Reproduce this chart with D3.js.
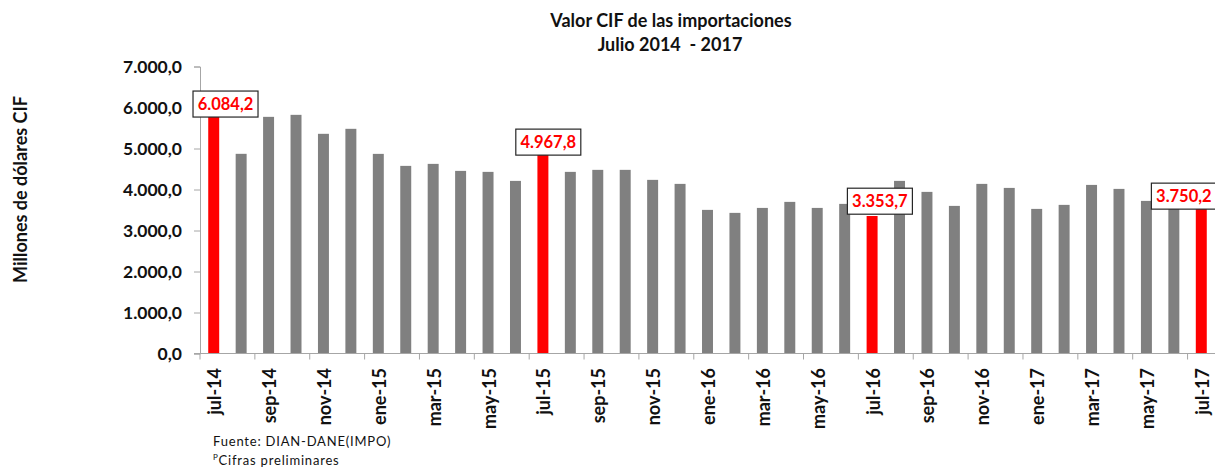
<!DOCTYPE html>
<html>
<head>
<meta charset="utf-8">
<script src="https://cdn.jsdelivr.net/npm/d3@7"></script>
<style>
  html, body { margin: 0; padding: 0; background: #fff; }
  svg { display: block; font-family: Lato, "Open Sans", sans-serif; }
</style>
</head>
<body>
<svg id="chart" width="1215" height="468"></svg>
<script>
// ---- Data ----
const months = [
  "jul-14","ago-14","sep-14","oct-14","nov-14","dic-14",
  "ene-15","feb-15","mar-15","abr-15","may-15","jun-15",
  "jul-15","ago-15","sep-15","oct-15","nov-15","dic-15",
  "ene-16","feb-16","mar-16","abr-16","may-16","jun-16",
  "jul-16","ago-16","sep-16","oct-16","nov-16","dic-16",
  "ene-17","feb-17","mar-17","abr-17","may-17","jun-17",
  "jul-17"
];
const values = [
  6084.2, 4870, 5772, 5821, 5358, 5480,
  4869, 4576, 4625, 4454, 4430, 4210,
  4967.8, 4430, 4479, 4479, 4235, 4137,
  3503, 3430, 3551, 3698, 3551, 3649,
  3353.7, 4210, 3942, 3600, 4137, 4039,
  3527, 3625, 4112, 4015, 3722, 3550,
  3750.2
];
const highlighted = ["jul-14", "jul-15", "jul-16", "jul-17"];
const yTicks = [0, 1000, 2000, 3000, 4000, 5000, 6000, 7000];
const titleLines = ["Valor CIF de las importaciones", "Julio 2014  - 2017"];
const yTitle = "Millones de dólares CIF";
const notes = ["Fuente: DIAN-DANE(IMPO)", "Cifras preliminares"];

// ---- Layout ----
const svg = d3.select("#chart");
const plotLeft = 200, plotRight = 1215, plotTop = 66.5, plotBottom = 353.5;

const x = d3.scaleBand().domain(months).range([plotLeft, plotRight])
  .paddingInner(0.6).paddingOuter(0.3);
const y = d3.scaleLinear().domain([0, 7000]).range([plotBottom, plotTop]);
const step = x.step();

const fmt = v => {
  const s = d3.format(",.1f")(v);
  return s.replace(/,/g, "#").replace(".", ",").replace(/#/g, ".");
};

const axisColor = "#a6a6a6";
const textColor = "#111";

// Title
svg.append("text").attr("x", 671).attr("y", 27)
  .attr("text-anchor", "middle").attr("font-weight", 700).attr("font-size", 18)
  .attr("fill", textColor).text(titleLines[0]);
svg.append("text").attr("x", 670).attr("y", 51)
  .attr("text-anchor", "middle").attr("font-weight", 700).attr("font-size", 18)
  .attr("fill", textColor).attr("xml:space", "preserve").text(titleLines[1]);

// Y axis title
svg.append("text")
  .attr("transform", `translate(21,${(97 + 282) / 2}) rotate(-90)`)
  .attr("text-anchor", "middle").attr("dy", "0.35em")
  .attr("font-weight", 700).attr("font-size", 18).attr("fill", textColor)
  .text(yTitle);

// Bars
svg.append("g").selectAll("rect").data(months).join("rect")
  .attr("x", d => x(d))
  .attr("width", x.bandwidth())
  .attr("y", (d, i) => y(values[i]))
  .attr("height", (d, i) => y(0) - y(values[i]))
  .attr("fill", d => highlighted.includes(d) ? "#ff0000" : "#808080");

// Y axis
const yAxis = d3.axisLeft(y).tickValues(yTicks).tickSize(6).tickPadding(12)
  .tickFormat(fmt);
const gy = svg.append("g").attr("transform", `translate(${plotLeft},0)`).call(yAxis);
gy.select(".domain").attr("stroke", axisColor);
gy.selectAll(".tick line").attr("stroke", axisColor);
gy.selectAll(".tick text").attr("font-family", "Lato, sans-serif")
  .attr("font-size", 17.5).attr("font-weight", 700).attr("fill", textColor);

// X axis line + ticks (every two months, at category boundaries)
svg.append("line").attr("x1", plotLeft - 6).attr("x2", plotRight)
  .attr("y1", y(0)).attr("y2", y(0)).attr("stroke", axisColor);
const labelled = months.filter((d, i) => i % 2 === 0);
svg.append("g").selectAll("line").data(labelled).join("line")
  .attr("x1", d => x(d) - x.paddingOuter() * step)
  .attr("x2", d => x(d) - x.paddingOuter() * step)
  .attr("y1", y(0)).attr("y2", y(0) + 6)
  .attr("stroke", axisColor);

// X labels (rotated)
svg.append("g").selectAll("text").data(labelled).join("text")
  .attr("transform", d => `translate(${x(d) + x.bandwidth() / 2 + 1},368) rotate(-90)`)
  .attr("text-anchor", "end").attr("dy", "0.36em")
  .attr("font-weight", 700).attr("font-size", 18).attr("fill", textColor)
  .text(d => d);

// Highlight value labels (boxed)
const labelShift = { "jul-14": [11.8, 0], "jul-15": [5.4, -7.7], "jul-16": [7.8, -14.8], "jul-17": [-17.4, -3.6] };
const boxW = 65, boxH = 26;
const gl = svg.append("g");
highlighted.forEach(m => {
  const i = months.indexOf(m);
  const [dx, dy] = labelShift[m];
  const cx = x(m) + x.bandwidth() / 2 + dx;
  const cy = y(values[i]) + dy;
  gl.append("rect").attr("x", cx - boxW / 2).attr("y", cy - boxH / 2)
    .attr("width", boxW).attr("height", boxH)
    .attr("fill", "#fff").attr("stroke", "#262626").attr("stroke-width", 1.2);
  gl.append("text").attr("x", cx).attr("y", cy).attr("dy", "0.36em")
    .attr("text-anchor", "middle").attr("font-weight", 700).attr("font-size", 16.5)
    .attr("fill", "#ff0000").text(fmt(values[i]));
});

// Footnotes
svg.append("text").attr("x", 213).attr("y", 446)
  .attr("font-size", 13).attr("letter-spacing", 0.8).attr("fill", textColor)
  .text(notes[0]);
const n2 = svg.append("text").attr("x", 213).attr("y", 465)
  .attr("font-size", 13).attr("letter-spacing", 0.8).attr("fill", textColor);
n2.append("tspan").attr("font-size", 8).attr("dy", -5).text("P");
n2.append("tspan").attr("dy", 5).text(notes[1]);
</script>
</body>
</html>
